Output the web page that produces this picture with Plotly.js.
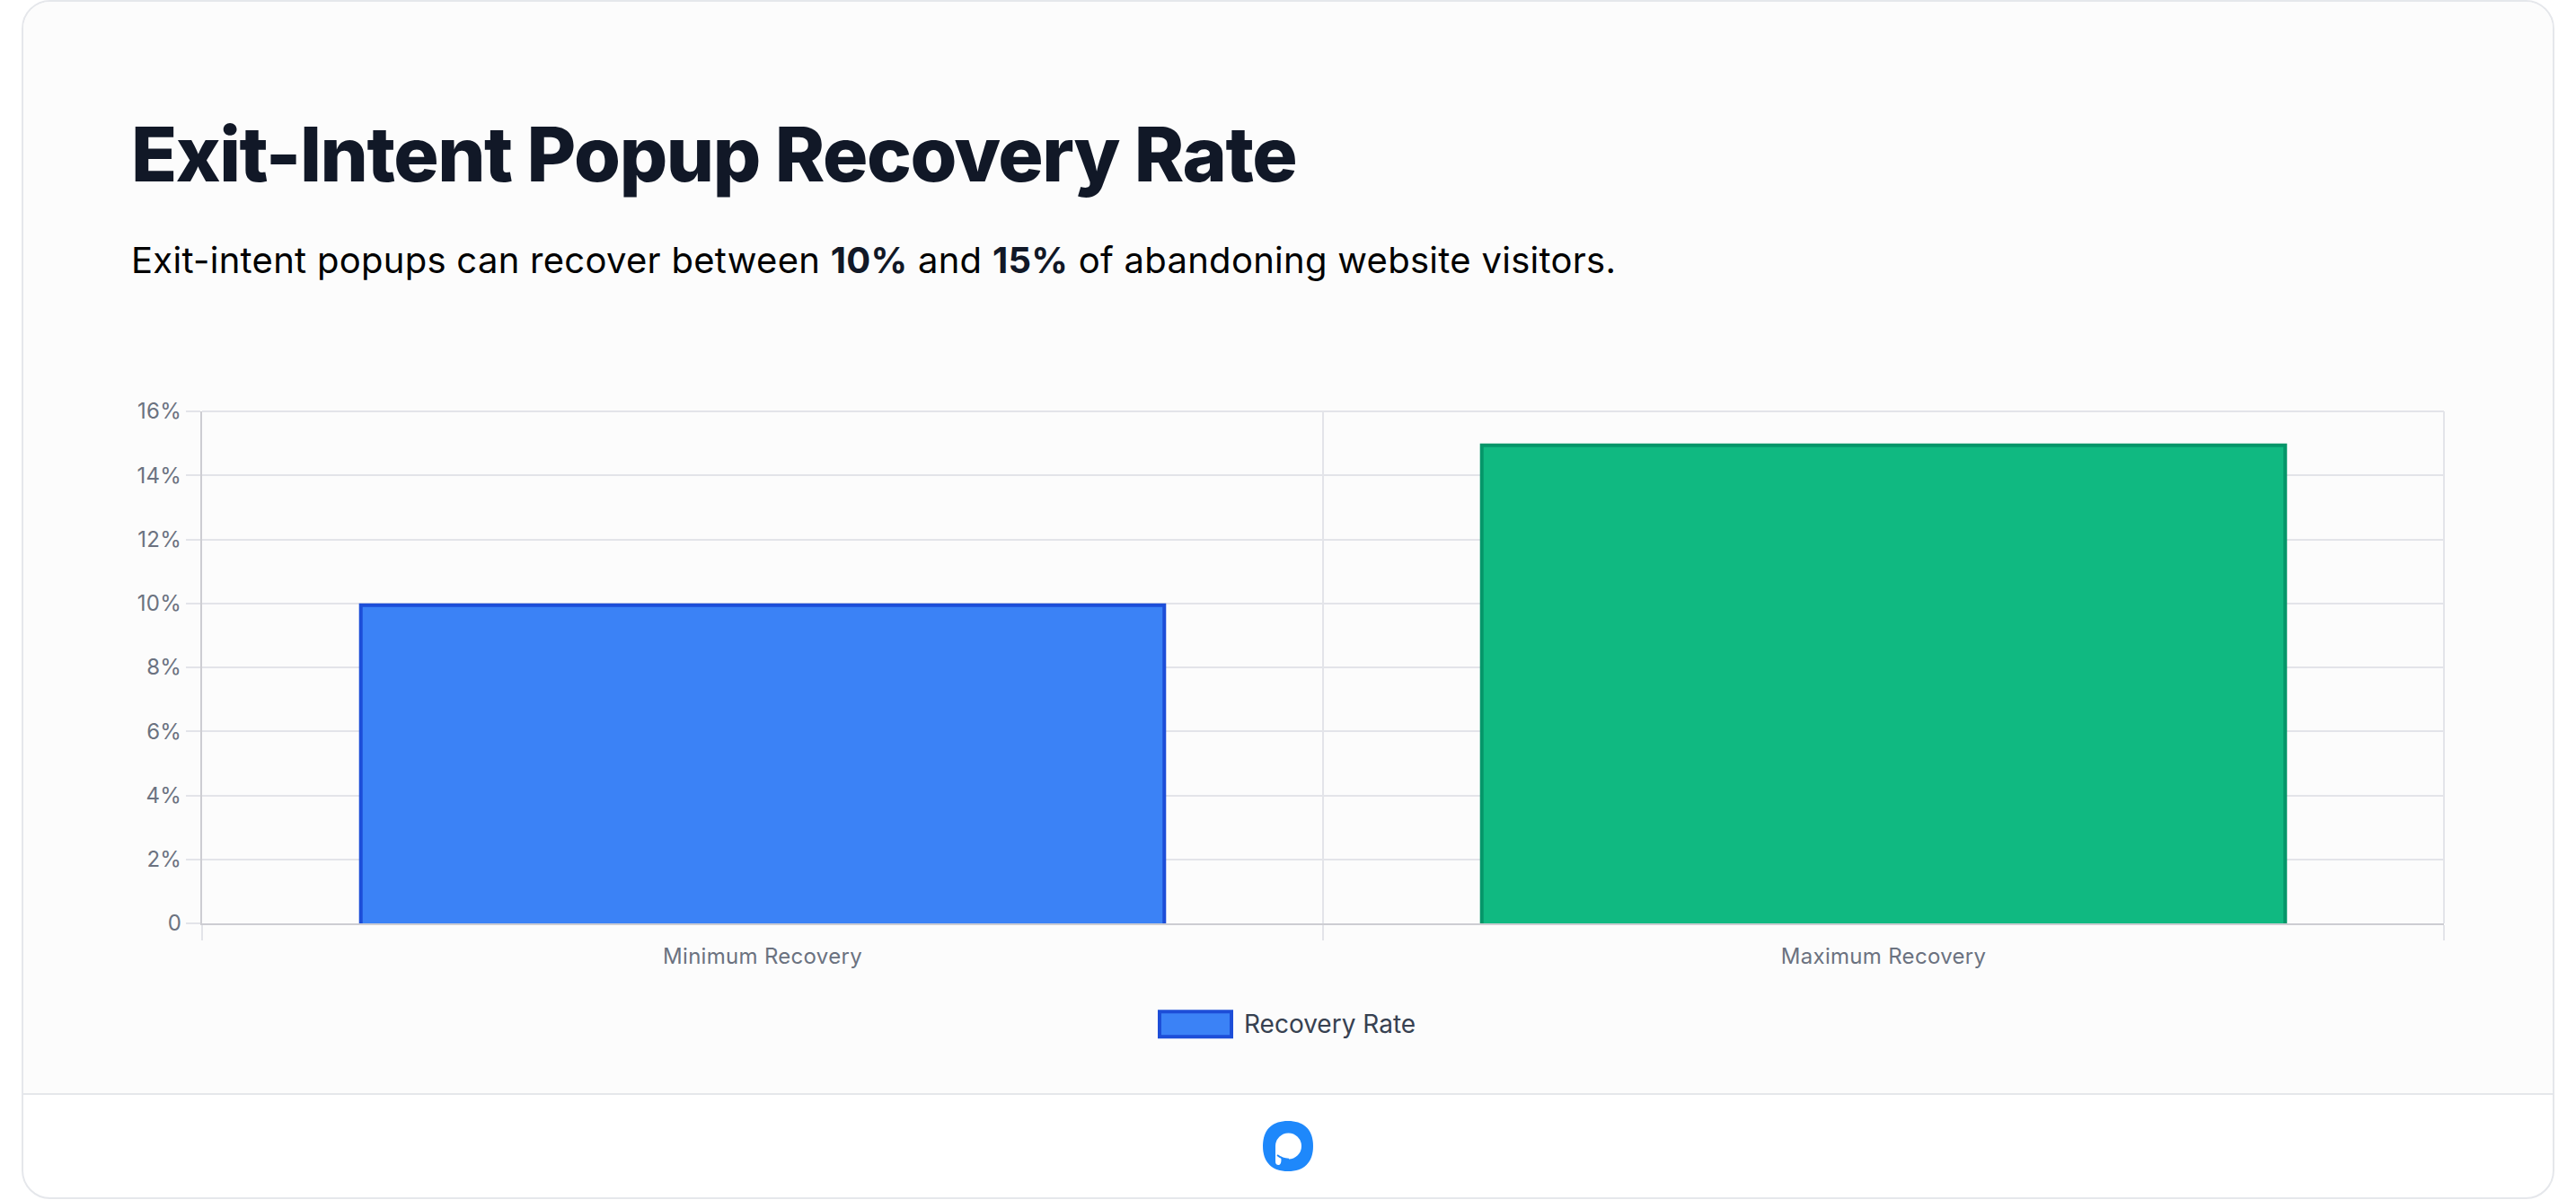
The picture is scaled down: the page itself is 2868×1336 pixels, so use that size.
<!DOCTYPE html>
<html><head><meta charset="utf-8">
<script src="https://cdn.plot.ly/plotly-3.0.1.min.js"></script>
<style>
html,body{margin:0;padding:0;background:#fff;width:2868px;height:1336px;overflow:hidden}
#card{position:absolute;left:24px;top:0;width:2816px;height:1331px;border:2px solid #e5e7eb;border-radius:32px;overflow:hidden;background:#fff}
#top{position:absolute;left:0;top:0;right:0;height:1215px;background:#fcfcfc;border-bottom:2px solid #e5e7eb}
#logo{position:absolute;left:1406px;top:1248px;width:56px;height:56px}
#chart{position:absolute;left:0;top:0;width:2868px;height:1336px}
.annotation[data-index="0"] text{letter-spacing:-1.46px}
.annotation[data-index="1"] text{letter-spacing:0.28px}
.xtick text,.ytick text{letter-spacing:0.3px}
</style></head><body>
<div id="card"><div id="top"></div></div>
<svg id="logo" viewBox="0 0 56 56"><path d="M28 0C46 0 56 10 56 28C56 46 46 56 28 56C10 56 0 46 0 28C0 10 10 0 28 0Z" fill="#1e88fb"/><path d="M14 28A14.5 14.5 0 1 1 28.500 42.500C25 42.500 22 41 20 39.500C21 43 20.500 49 17.500 49C15 49 14 47.500 14 45Z" fill="#fff"/><path d="M16 38C19 40.500 24 42.500 29 42.700" stroke="#1e88fb" stroke-width="1.800" fill="none"/></svg>
<div id="chart"></div>
<script>
const categories = ['Minimum Recovery', 'Maximum Recovery'];
const recoveryRate = [10, 15];
const fillColors = ['#3b82f6', '#10b981'];
const lineColors = ['#1d4ed8', '#059669'];
const yTickVals = [0, 2, 4, 6, 8, 10, 12, 14, 16];
const yTickText = ['0', '2%', '4%', '6%', '8%', '10%', '12%', '14%', '16%'];
const seriesName = 'Recovery Rate';

const W = 2868, H = 1336;
const L = 225, R = 2721, T = 458, B = 1028;
const px = v => (v - L) / (R - L);
const py = v => (B - v) / (B - T);
const unitPx = (B - T) / 16;
const shift = 2 / unitPx;   // Chart.js draws the border inside the bar: offset half a stroke

const font = 'Inter, sans-serif';
const gridC = '#e3e4e9', axisC = '#cdcdd2';

Plotly.newPlot('chart', [{
  type: 'scatter', mode: 'none', x: categories, y: recoveryRate, yaxis: 'y', showlegend: false, hoverinfo: 'skip'
}, {
  type: 'bar', name: seriesName, x: categories, y: recoveryRate, yaxis: 'y2',
  width: 0.72 - 4 / ((R - L) / 2),
  marker: {color: fillColors, line: {color: lineColors, width: 4}},
  showlegend: false, hoverinfo: 'x+y'
}], {
  width: W, height: H,
  paper_bgcolor: 'rgba(0,0,0,0)', plot_bgcolor: 'rgba(0,0,0,0)',
  margin: {l: L, r: W - R, t: T, b: H - B, pad: 0},
  showlegend: false, bargap: 0.28,
  xaxis: {
    type: 'category', range: [-0.5, 1.5], tickson: 'boundaries',
    ticks: 'outside', ticklen: 17, tickwidth: 2, tickcolor: gridC, ticklabelstandoff: 14,
    showgrid: true, gridcolor: gridC, gridwidth: 2,
    showline: true, linecolor: axisC, linewidth: 2,
    tickfont: {family: font, size: 24, color: '#6b7280'}, zeroline: false, fixedrange: true
  },
  yaxis: {
    range: [0, 16], tickmode: 'array', tickvals: yTickVals, ticktext: yTickText,
    ticks: 'outside', ticklen: 16, tickwidth: 2, tickcolor: gridC,
    showgrid: true, gridcolor: gridC, gridwidth: 2,
    showline: true, linecolor: axisC, linewidth: 2, zeroline: false,
    tickfont: {family: font, size: 24, color: '#6b7280'}, fixedrange: true
  },
  yaxis2: {range: [shift, 16 + shift], overlaying: 'y', visible: false, fixedrange: true},
  shapes: [{
    type: 'line', xref: 'paper', yref: 'paper', layer: 'below', x0: 0, x1: 1, y0: 1, y1: 1,
    line: {color: gridC, width: 2}
  }, {
    type: 'line', xref: 'paper', yref: 'paper', layer: 'below', x0: 1, x1: 1, y0: 0, y1: 1,
    line: {color: gridC, width: 2}
  }, {
    type: 'rect', xref: 'paper', yref: 'paper', layer: 'above',
    x0: px(1291), x1: px(1371), y0: py(1126.3), y1: py(1154.3),
    fillcolor: fillColors[0], line: {color: lineColors[0], width: 4}
  }],
  annotations: [
    {xref: 'paper', yref: 'paper', x: px(144), y: py(171), xanchor: 'left', yanchor: 'middle', align: 'left', showarrow: false,
     text: 'Exit-Intent Popup Recovery Rate', font: {family: font, size: 84, color: '#111827', weight: 800}},
    {xref: 'paper', yref: 'paper', x: px(144), y: py(289.5), xanchor: 'left', yanchor: 'middle', align: 'left', showarrow: false,
     text: 'Exit-intent popups can recover between <b style="color:#111827">10%</b> and <b style="color:#111827">15%</b> of abandoning website visitors.',
     font: {family: font, size: 40, color: '#000000'}},
    {xref: 'paper', yref: 'paper', x: px(1382.500), y: py(1140), xanchor: 'left', yanchor: 'middle', align: 'left', showarrow: false,
     text: seriesName, font: {family: font, size: 28, color: '#374151'}}
  ]
}, {displayModeBar: false, staticPlot: true});
</script></body></html>
